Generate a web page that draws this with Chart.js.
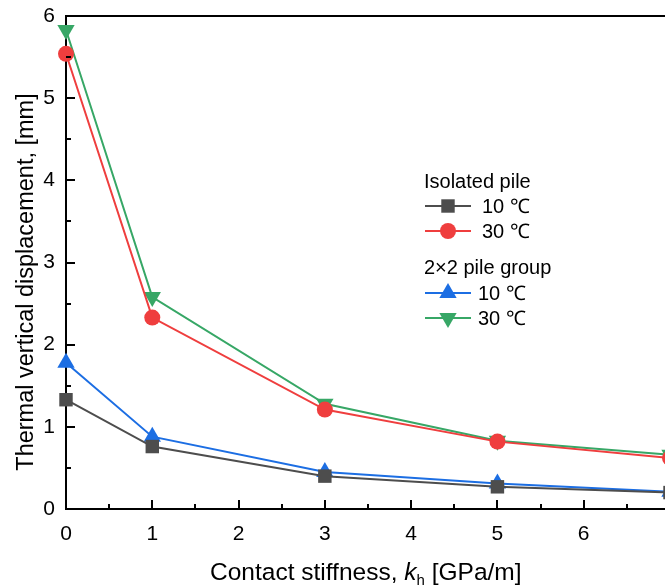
<!DOCTYPE html>
<html>
<head>
<meta charset="utf-8">
<script src="https://cdn.jsdelivr.net/npm/chart.js@4.4.0/dist/chart.umd.min.js"></script>
<style>
  html, body { margin: 0; padding: 0; background: #fff; overflow: hidden; }
  #wrap { width: 680px; height: 587px; }
  canvas { display: block; }
</style>
</head>
<body>
<div id="wrap"><canvas id="chart" width="680" height="587"></canvas></div>
<script>
// data
const kh = [0, 1, 3, 5, 7];
const isolated10 = [1.33, 0.76, 0.40, 0.27, 0.20];
const isolated30 = [5.54, 2.33, 1.21, 0.82, 0.62];
const group10 = [1.78, 0.88, 0.45, 0.31, 0.21];
const group30 = [5.83, 2.58, 1.28, 0.83, 0.66];
const xTicks = [0, 1, 2, 3, 4, 5, 6];
const yTicks = [0, 1, 2, 3, 4, 5, 6];
const seriesLabels = ['10 ℃', '30 ℃', '10 ℃', '30 ℃'];
const groupLabels = ['Isolated pile', '2×2 pile group'];

const FONT = '"Liberation Sans", Arial, sans-serif';

function pts(ys) {
  return kh.map((x, i) => ({ x: x, y: ys[i] }));
}

const datasets = [
  { label: seriesLabels[0], data: pts(isolated10), borderColor: '#4d4d4d', backgroundColor: '#4d4d4d',
    pointStyle: 'rect', pointRadius: 9.5, rotation: 0 },
  { label: seriesLabels[1], data: pts(isolated30), borderColor: '#ef3e3e', backgroundColor: '#ef3e3e',
    pointStyle: 'circle', pointRadius: 8, rotation: 0 },
  { label: seriesLabels[2], data: pts(group10), borderColor: '#1c6ee3', backgroundColor: '#1c6ee3',
    pointStyle: 'triangle', pointRadius: 10, rotation: 0 },
  { label: seriesLabels[3], data: pts(group30), borderColor: '#37a766', backgroundColor: '#37a766',
    pointStyle: 'triangle', pointRadius: 10, rotation: 180 }
].map(d => Object.assign(d, { borderWidth: 2, pointBorderWidth: 0, showLine: true, tension: 0, clip: false }));

// inward tick marks, top frame, axis titles and grouped legend
const decorations = {
  id: 'decorations',
  afterDraw(chart) {
    const ctx = chart.ctx;
    const a = chart.chartArea;
    const xs = chart.scales.x, ys = chart.scales.y;
    ctx.save();
    ctx.strokeStyle = '#000';
    ctx.lineWidth = 2;
    ctx.beginPath();
    ctx.moveTo(a.left - 1, a.top);
    ctx.lineTo(a.right + 1, a.top);
    ctx.moveTo(a.right, a.top);
    ctx.lineTo(a.right, a.bottom);
    ctx.stroke();

    ctx.lineWidth = 2;
    ctx.beginPath();
    for (let v = 0.5; v < 7; v += 0.5) {
      const px = Math.round(xs.getPixelForValue(v));
      const len = Number.isInteger(v) ? 9 : 5;
      ctx.moveTo(px, a.bottom);
      ctx.lineTo(px, a.bottom - len);
    }
    for (let v = 0.5; v < 6; v += 0.5) {
      const py = Math.round(ys.getPixelForValue(v));
      const len = Number.isInteger(v) ? 9 : 5;
      ctx.moveTo(a.left, py);
      ctx.lineTo(a.left + len, py);
    }
    ctx.stroke();

    // y title
    ctx.fillStyle = '#000';
    ctx.font = '23.5px ' + FONT;
    ctx.textAlign = 'center';
    ctx.textBaseline = 'alphabetic';
    ctx.save();
    ctx.translate(33, 282);
    ctx.rotate(-Math.PI / 2);
    ctx.fillText('Thermal vertical displacement, [mm]', 0, 0);
    ctx.restore();

    // x title with italic k and subscript h
    const parts = [
      { t: 'Contact stiffness, ', f: '24.5px ' + FONT, dy: 0 },
      { t: 'k', f: 'italic 24.5px ' + FONT, dy: 0 },
      { t: 'h', f: '15px ' + FONT, dy: 5 },
      { t: ' [GPa/m]', f: '24.5px ' + FONT, dy: 0 }
    ];
    parts.forEach(p => { ctx.font = p.f; p.w = ctx.measureText(p.t).width; });
    let x = 210;
    ctx.textAlign = 'left';
    parts.forEach(p => { ctx.font = p.f; ctx.fillText(p.t, x, 580 + p.dy); x += p.w; });

    // legend
    const rows = [
      { head: groupLabels[0], y: 182 },
      { ds: 0, y: 206, tx: 482 },
      { ds: 1, y: 231, tx: 482 },
      { head: groupLabels[1], y: 268 },
      { ds: 2, y: 293, tx: 478 },
      { ds: 3, y: 318, tx: 478 }
    ];
    ctx.textBaseline = 'middle';
    rows.forEach(r => {
      ctx.font = '20px ' + FONT;
      ctx.fillStyle = '#000';
      if (r.head) {
        ctx.fillText(r.head, 424, r.y);
        return;
      }
      const d = chart.data.datasets[r.ds];
      ctx.strokeStyle = d.borderColor;
      ctx.lineWidth = 2;
      ctx.beginPath();
      ctx.moveTo(425, r.y);
      ctx.lineTo(471, r.y);
      ctx.stroke();
      ctx.fillStyle = d.backgroundColor;
      Chart.helpers.drawPoint(ctx, {
        pointStyle: d.pointStyle, rotation: d.rotation, radius: d.pointRadius, borderWidth: 0
      }, 448, r.y);
      ctx.fillStyle = '#000';
      ctx.fillText(d.label, r.tx, r.y + 1);
    });
    ctx.restore();
  }
};

new Chart(document.getElementById('chart'), {
  type: 'scatter',
  data: { datasets: datasets },
  options: {
    responsive: false,
    animation: false,
    layout: { padding: { left: 0, top: 16, right: 6, bottom: 0 } },
    plugins: { legend: { display: false }, tooltip: { enabled: false } },
    scales: {
      x: {
        type: 'linear', min: 0, max: 7,
        afterFit(s) { s.height = 78; s.paddingLeft = 0; s.paddingRight = 0; },
        afterBuildTicks(s) { s.ticks = xTicks.map(v => ({ value: v })); },
        grid: { display: false, drawTicks: false },
        border: { display: true, color: '#000', width: 2 },
        ticks: { color: '#000', padding: 13, font: { family: FONT, size: 21 } }
      },
      y: {
        type: 'linear', min: 0, max: 6,
        afterFit(s) { s.width = 66; s.paddingTop = 0; s.paddingBottom = 0; },
        afterBuildTicks(s) { s.ticks = yTicks.map(v => ({ value: v })); },
        grid: { display: false, drawTicks: false },
        border: { display: true, color: '#000', width: 2 },
        ticks: { color: '#000', padding: 11, font: { family: FONT, size: 21 } }
      }
    }
  },
  plugins: [decorations]
});
</script>
</body>
</html>
